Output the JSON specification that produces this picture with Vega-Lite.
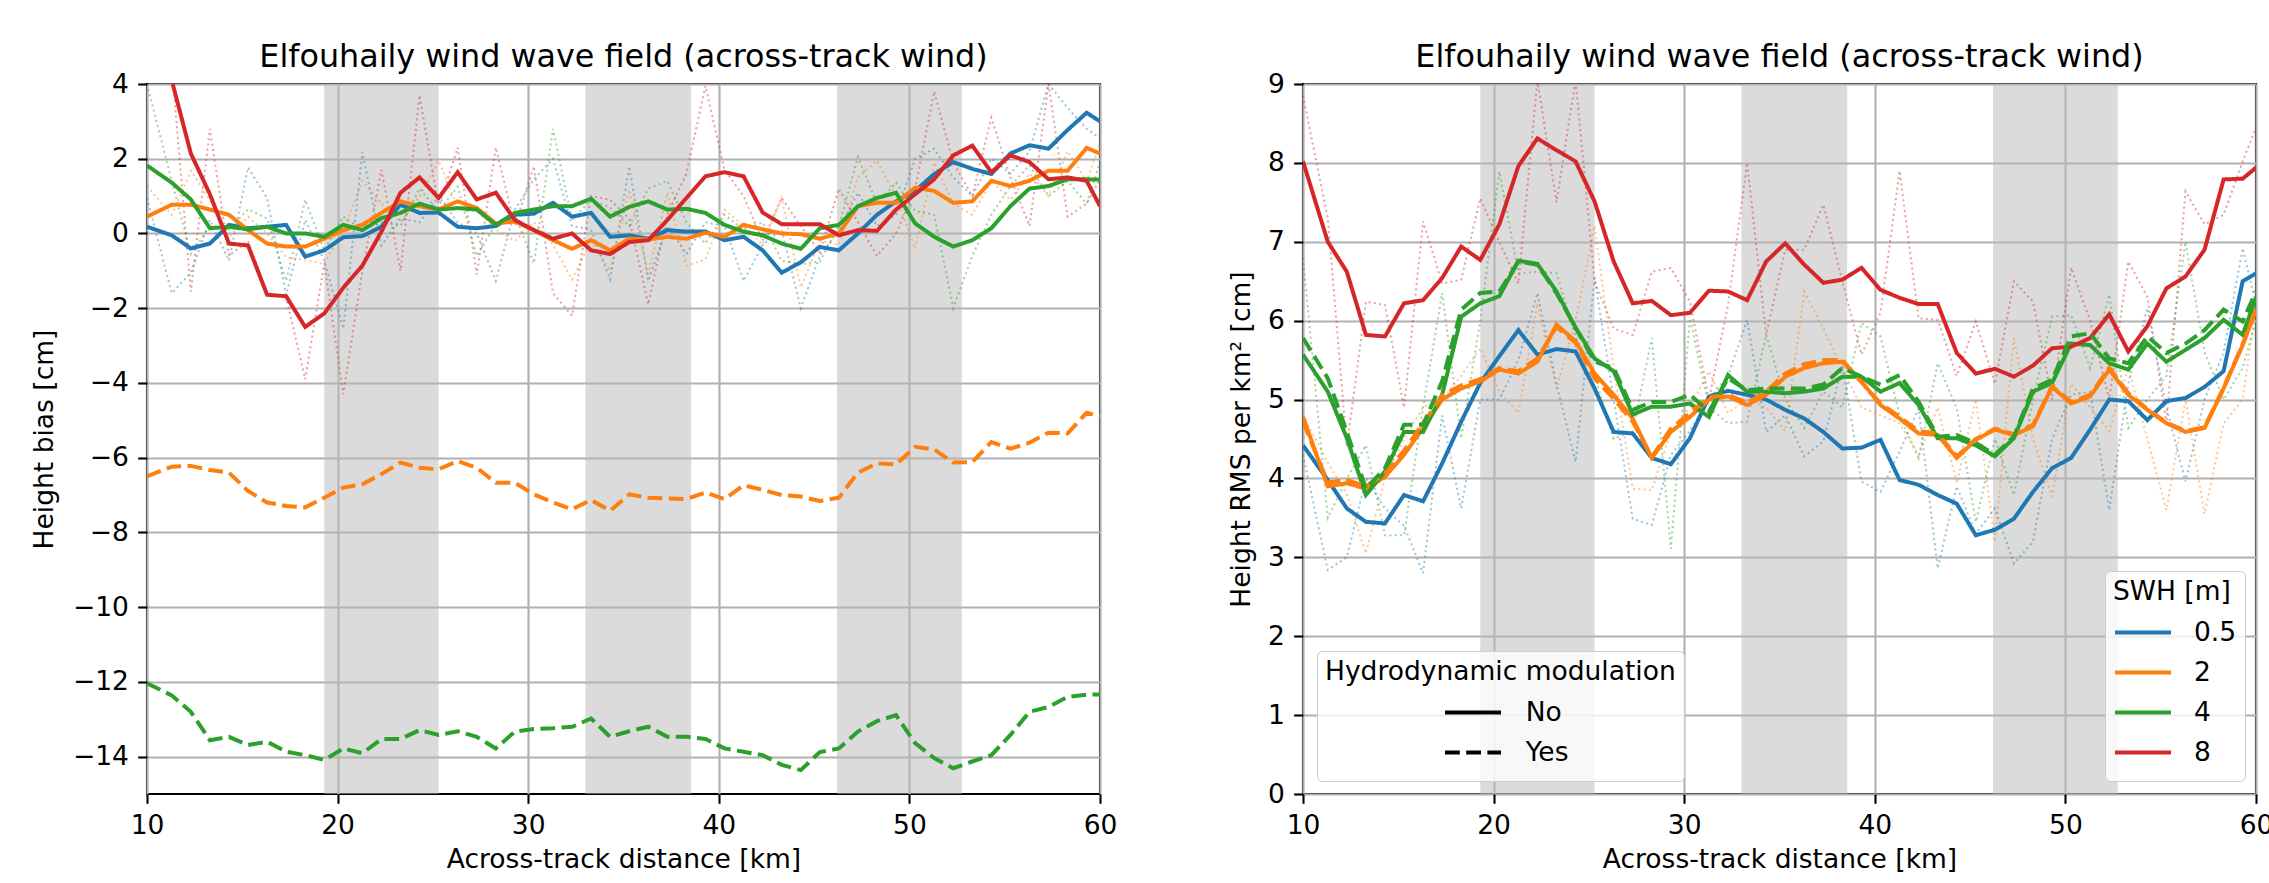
{
"$schema":"https://vega.github.io/schema/vega-lite/v6.json",
"background":"white",
"padding":{"left":30,"top":41,"right":5,"bottom":5},
"spacing":203,
"bounds":"flush",
"resolve":{"scale":{"color":"independent","strokeDash":"independent"}},
"config":{
"font":"DejaVu Sans",
"view":{"stroke":"black","strokeWidth":2.1},
"axis":{"labelFont":"DejaVu Sans","labelFontSize":26.5,"labelColor":"black","titleFont":"DejaVu Sans","titleFontSize":26.5,"titleFontWeight":"normal","titleColor":"black","tickColor":"black","tickSize":9.3,"tickWidth":2.1,"labelPadding":9.3,"domain":false,"gridColor":"#b0b0b0","gridWidth":2.1,"gridOpacity":1,"labelFlush":false,"labelOverlap":false,"labelBound":false},
"title":{"font":"DejaVu Sans","fontSize":31.8,"fontWeight":"normal","color":"black","offset":-28},
"legend":{"symbolType":"stroke","symbolSize":3136,"symbolStrokeWidth":4,"clipHeight":40,"rowPadding":0,"titlePadding":7,"padding":8,"fillColor":"rgba(255,255,255,0.8)","strokeColor":"#cccccc","cornerRadius":5,"labelFont":"DejaVu Sans","labelFontSize":26.5,"labelColor":"black","titleFont":"DejaVu Sans","titleFontSize":26.5,"titleFontWeight":"normal","titleColor":"black","titleLimit":1000,"labelLimit":500}
},
"datasets":{
"bands":[{"x0":19.3,"x1":25.3},{"x0":33.0,"x1":38.55},{"x0":46.2,"x1":52.75}],
"biasAvg":[
{"x":10,"y":0.18,"s":0.5,"m":"No"},{"x":11.3,"y":-0.05,"s":0.5,"m":"No"},{"x":12.3,"y":-0.4,"s":0.5,"m":"No"},{"x":13.3,"y":-0.27,"s":0.5,"m":"No"},{"x":14.3,"y":0.23,"s":0.5,"m":"No"},{"x":15.3,"y":0.14,"s":0.5,"m":"No"},{"x":16.3,"y":0.18,"s":0.5,"m":"No"},{"x":17.3,"y":0.23,"s":0.5,"m":"No"},{"x":18.3,"y":-0.62,"s":0.5,"m":"No"},{"x":19.3,"y":-0.45,"s":0.5,"m":"No"},{"x":20.3,"y":-0.1,"s":0.5,"m":"No"},{"x":21.3,"y":-0.07,"s":0.5,"m":"No"},{"x":22.3,"y":0.18,"s":0.5,"m":"No"},{"x":23.3,"y":0.77,"s":0.5,"m":"No"},{"x":24.3,"y":0.55,"s":0.5,"m":"No"},{"x":25.3,"y":0.56,"s":0.5,"m":"No"},{"x":26.3,"y":0.18,"s":0.5,"m":"No"},{"x":27.3,"y":0.14,"s":0.5,"m":"No"},{"x":28.3,"y":0.2,"s":0.5,"m":"No"},{"x":29.3,"y":0.5,"s":0.5,"m":"No"},{"x":30.3,"y":0.53,"s":0.5,"m":"No"},{"x":31.3,"y":0.82,"s":0.5,"m":"No"},{"x":32.3,"y":0.45,"s":0.5,"m":"No"},{"x":33.3,"y":0.55,"s":0.5,"m":"No"},{"x":34.3,"y":-0.09,"s":0.5,"m":"No"},{"x":35.3,"y":-0.05,"s":0.5,"m":"No"},{"x":36.3,"y":-0.14,"s":0.5,"m":"No"},{"x":37.3,"y":0.09,"s":0.5,"m":"No"},{"x":38.3,"y":0.05,"s":0.5,"m":"No"},{"x":39.3,"y":0.05,"s":0.5,"m":"No"},{"x":40.3,"y":-0.18,"s":0.5,"m":"No"},{"x":41.3,"y":-0.09,"s":0.5,"m":"No"},{"x":42.3,"y":-0.45,"s":0.5,"m":"No"},{"x":43.3,"y":-1.05,"s":0.5,"m":"No"},{"x":44.3,"y":-0.77,"s":0.5,"m":"No"},{"x":45.3,"y":-0.36,"s":0.5,"m":"No"},{"x":46.3,"y":-0.45,"s":0.5,"m":"No"},{"x":47.3,"y":0,"s":0.5,"m":"No"},{"x":48.3,"y":0.5,"s":0.5,"m":"No"},{"x":49.3,"y":0.86,"s":0.5,"m":"No"},{"x":50.3,"y":1.14,"s":0.5,"m":"No"},{"x":51.3,"y":1.59,"s":0.5,"m":"No"},{"x":52.3,"y":1.91,"s":0.5,"m":"No"},{"x":53.3,"y":1.73,"s":0.5,"m":"No"},{"x":54.3,"y":1.59,"s":0.5,"m":"No"},{"x":55.3,"y":2.14,"s":0.5,"m":"No"},{"x":56.3,"y":2.36,"s":0.5,"m":"No"},{"x":57.3,"y":2.27,"s":0.5,"m":"No"},{"x":58.3,"y":2.77,"s":0.5,"m":"No"},{"x":59.3,"y":3.23,"s":0.5,"m":"No"},{"x":60,"y":3.0,"s":0.5,"m":"No"},
{"x":10,"y":0.45,"s":2,"m":"No"},{"x":11.3,"y":0.77,"s":2,"m":"No"},{"x":12.3,"y":0.77,"s":2,"m":"No"},{"x":13.3,"y":0.64,"s":2,"m":"No"},{"x":14.3,"y":0.5,"s":2,"m":"No"},{"x":15.3,"y":0.09,"s":2,"m":"No"},{"x":16.3,"y":-0.27,"s":2,"m":"No"},{"x":17.3,"y":-0.35,"s":2,"m":"No"},{"x":18.3,"y":-0.35,"s":2,"m":"No"},{"x":19.3,"y":-0.14,"s":2,"m":"No"},{"x":20.3,"y":0.09,"s":2,"m":"No"},{"x":21.3,"y":0.23,"s":2,"m":"No"},{"x":22.3,"y":0.55,"s":2,"m":"No"},{"x":23.3,"y":0.86,"s":2,"m":"No"},{"x":24.3,"y":0.73,"s":2,"m":"No"},{"x":25.3,"y":0.64,"s":2,"m":"No"},{"x":26.3,"y":0.86,"s":2,"m":"No"},{"x":27.3,"y":0.68,"s":2,"m":"No"},{"x":28.3,"y":0.27,"s":2,"m":"No"},{"x":29.3,"y":0.32,"s":2,"m":"No"},{"x":30.3,"y":0.09,"s":2,"m":"No"},{"x":31.3,"y":-0.18,"s":2,"m":"No"},{"x":32.3,"y":-0.41,"s":2,"m":"No"},{"x":33.3,"y":-0.18,"s":2,"m":"No"},{"x":34.3,"y":-0.45,"s":2,"m":"No"},{"x":35.3,"y":-0.14,"s":2,"m":"No"},{"x":36.3,"y":-0.16,"s":2,"m":"No"},{"x":37.3,"y":-0.09,"s":2,"m":"No"},{"x":38.3,"y":-0.14,"s":2,"m":"No"},{"x":39.3,"y":0.02,"s":2,"m":"No"},{"x":40.3,"y":-0.09,"s":2,"m":"No"},{"x":41.3,"y":0.23,"s":2,"m":"No"},{"x":42.3,"y":0.11,"s":2,"m":"No"},{"x":43.3,"y":0,"s":2,"m":"No"},{"x":44.3,"y":-0.02,"s":2,"m":"No"},{"x":45.3,"y":-0.14,"s":2,"m":"No"},{"x":46.3,"y":0,"s":2,"m":"No"},{"x":47.3,"y":0.73,"s":2,"m":"No"},{"x":48.3,"y":0.82,"s":2,"m":"No"},{"x":49.3,"y":0.82,"s":2,"m":"No"},{"x":50.3,"y":1.23,"s":2,"m":"No"},{"x":51.3,"y":1.14,"s":2,"m":"No"},{"x":52.3,"y":0.82,"s":2,"m":"No"},{"x":53.3,"y":0.86,"s":2,"m":"No"},{"x":54.3,"y":1.41,"s":2,"m":"No"},{"x":55.3,"y":1.27,"s":2,"m":"No"},{"x":56.3,"y":1.41,"s":2,"m":"No"},{"x":57.3,"y":1.68,"s":2,"m":"No"},{"x":58.3,"y":1.68,"s":2,"m":"No"},{"x":59.3,"y":2.29,"s":2,"m":"No"},{"x":60,"y":2.14,"s":2,"m":"No"},
{"x":10,"y":1.82,"s":4,"m":"No"},{"x":11.3,"y":1.36,"s":4,"m":"No"},{"x":12.3,"y":0.91,"s":4,"m":"No"},{"x":13.3,"y":0.14,"s":4,"m":"No"},{"x":14.3,"y":0.18,"s":4,"m":"No"},{"x":15.3,"y":0.11,"s":4,"m":"No"},{"x":16.3,"y":0.18,"s":4,"m":"No"},{"x":17.3,"y":0,"s":4,"m":"No"},{"x":18.3,"y":0,"s":4,"m":"No"},{"x":19.3,"y":-0.09,"s":4,"m":"No"},{"x":20.3,"y":0.23,"s":4,"m":"No"},{"x":21.3,"y":0.09,"s":4,"m":"No"},{"x":22.3,"y":0.41,"s":4,"m":"No"},{"x":23.3,"y":0.55,"s":4,"m":"No"},{"x":24.3,"y":0.8,"s":4,"m":"No"},{"x":25.3,"y":0.64,"s":4,"m":"No"},{"x":26.3,"y":0.68,"s":4,"m":"No"},{"x":27.3,"y":0.64,"s":4,"m":"No"},{"x":28.3,"y":0.23,"s":4,"m":"No"},{"x":29.3,"y":0.55,"s":4,"m":"No"},{"x":30.3,"y":0.64,"s":4,"m":"No"},{"x":31.3,"y":0.73,"s":4,"m":"No"},{"x":32.3,"y":0.73,"s":4,"m":"No"},{"x":33.3,"y":0.93,"s":4,"m":"No"},{"x":34.3,"y":0.45,"s":4,"m":"No"},{"x":35.3,"y":0.71,"s":4,"m":"No"},{"x":36.3,"y":0.86,"s":4,"m":"No"},{"x":37.3,"y":0.64,"s":4,"m":"No"},{"x":38.3,"y":0.66,"s":4,"m":"No"},{"x":39.3,"y":0.55,"s":4,"m":"No"},{"x":40.3,"y":0.23,"s":4,"m":"No"},{"x":41.3,"y":0.05,"s":4,"m":"No"},{"x":42.3,"y":-0.05,"s":4,"m":"No"},{"x":43.3,"y":-0.27,"s":4,"m":"No"},{"x":44.3,"y":-0.41,"s":4,"m":"No"},{"x":45.3,"y":0.14,"s":4,"m":"No"},{"x":46.3,"y":0.23,"s":4,"m":"No"},{"x":47.3,"y":0.73,"s":4,"m":"No"},{"x":48.3,"y":0.95,"s":4,"m":"No"},{"x":49.3,"y":1.09,"s":4,"m":"No"},{"x":50.3,"y":0.27,"s":4,"m":"No"},{"x":51.3,"y":-0.09,"s":4,"m":"No"},{"x":52.3,"y":-0.35,"s":4,"m":"No"},{"x":53.3,"y":-0.18,"s":4,"m":"No"},{"x":54.3,"y":0.14,"s":4,"m":"No"},{"x":55.3,"y":0.73,"s":4,"m":"No"},{"x":56.3,"y":1.2,"s":4,"m":"No"},{"x":57.3,"y":1.27,"s":4,"m":"No"},{"x":58.3,"y":1.45,"s":4,"m":"No"},{"x":59.3,"y":1.45,"s":4,"m":"No"},{"x":60,"y":1.44,"s":4,"m":"No"},
{"x":11.35,"y":4.0,"s":8,"m":"No"},{"x":12.3,"y":2.14,"s":8,"m":"No"},{"x":13.3,"y":1.05,"s":8,"m":"No"},{"x":14.3,"y":-0.27,"s":8,"m":"No"},{"x":15.3,"y":-0.32,"s":8,"m":"No"},{"x":16.3,"y":-1.64,"s":8,"m":"No"},{"x":17.3,"y":-1.68,"s":8,"m":"No"},{"x":18.3,"y":-2.5,"s":8,"m":"No"},{"x":19.3,"y":-2.14,"s":8,"m":"No"},{"x":20.3,"y":-1.45,"s":8,"m":"No"},{"x":21.3,"y":-0.86,"s":8,"m":"No"},{"x":22.3,"y":0.05,"s":8,"m":"No"},{"x":23.3,"y":1.09,"s":8,"m":"No"},{"x":24.3,"y":1.5,"s":8,"m":"No"},{"x":25.3,"y":0.95,"s":8,"m":"No"},{"x":26.3,"y":1.64,"s":8,"m":"No"},{"x":27.3,"y":0.91,"s":8,"m":"No"},{"x":28.3,"y":1.09,"s":8,"m":"No"},{"x":29.3,"y":0.36,"s":8,"m":"No"},{"x":30.3,"y":0.09,"s":8,"m":"No"},{"x":31.3,"y":-0.14,"s":8,"m":"No"},{"x":32.3,"y":0,"s":8,"m":"No"},{"x":33.3,"y":-0.45,"s":8,"m":"No"},{"x":34.3,"y":-0.55,"s":8,"m":"No"},{"x":35.3,"y":-0.23,"s":8,"m":"No"},{"x":36.3,"y":-0.18,"s":8,"m":"No"},{"x":37.3,"y":0.36,"s":8,"m":"No"},{"x":38.3,"y":0.95,"s":8,"m":"No"},{"x":39.3,"y":1.53,"s":8,"m":"No"},{"x":40.3,"y":1.64,"s":8,"m":"No"},{"x":41.3,"y":1.53,"s":8,"m":"No"},{"x":42.3,"y":0.56,"s":8,"m":"No"},{"x":43.3,"y":0.25,"s":8,"m":"No"},{"x":44.3,"y":0.25,"s":8,"m":"No"},{"x":45.3,"y":0.25,"s":8,"m":"No"},{"x":46.3,"y":-0.05,"s":8,"m":"No"},{"x":47.3,"y":0.09,"s":8,"m":"No"},{"x":48.3,"y":0.07,"s":8,"m":"No"},{"x":49.3,"y":0.64,"s":8,"m":"No"},{"x":50.3,"y":1.05,"s":8,"m":"No"},{"x":51.3,"y":1.45,"s":8,"m":"No"},{"x":52.3,"y":2.09,"s":8,"m":"No"},{"x":53.3,"y":2.35,"s":8,"m":"No"},{"x":54.3,"y":1.64,"s":8,"m":"No"},{"x":55.3,"y":2.09,"s":8,"m":"No"},{"x":56.3,"y":1.91,"s":8,"m":"No"},{"x":57.3,"y":1.45,"s":8,"m":"No"},{"x":58.3,"y":1.5,"s":8,"m":"No"},{"x":59.3,"y":1.41,"s":8,"m":"No"},{"x":60,"y":0.73,"s":8,"m":"No"},
{"x":10,"y":-6.5,"s":2,"m":"Yes"},{"x":11.3,"y":-6.24,"s":2,"m":"Yes"},{"x":12.3,"y":-6.22,"s":2,"m":"Yes"},{"x":13.3,"y":-6.33,"s":2,"m":"Yes"},{"x":14.3,"y":-6.4,"s":2,"m":"Yes"},{"x":15.3,"y":-6.89,"s":2,"m":"Yes"},{"x":16.3,"y":-7.2,"s":2,"m":"Yes"},{"x":17.3,"y":-7.29,"s":2,"m":"Yes"},{"x":18.3,"y":-7.33,"s":2,"m":"Yes"},{"x":19.3,"y":-7.07,"s":2,"m":"Yes"},{"x":20.3,"y":-6.8,"s":2,"m":"Yes"},{"x":21.3,"y":-6.71,"s":2,"m":"Yes"},{"x":22.3,"y":-6.44,"s":2,"m":"Yes"},{"x":23.3,"y":-6.13,"s":2,"m":"Yes"},{"x":24.3,"y":-6.27,"s":2,"m":"Yes"},{"x":25.3,"y":-6.31,"s":2,"m":"Yes"},{"x":26.3,"y":-6.09,"s":2,"m":"Yes"},{"x":27.3,"y":-6.27,"s":2,"m":"Yes"},{"x":28.3,"y":-6.67,"s":2,"m":"Yes"},{"x":29.3,"y":-6.67,"s":2,"m":"Yes"},{"x":30.3,"y":-6.98,"s":2,"m":"Yes"},{"x":31.3,"y":-7.2,"s":2,"m":"Yes"},{"x":32.3,"y":-7.38,"s":2,"m":"Yes"},{"x":33.3,"y":-7.13,"s":2,"m":"Yes"},{"x":34.3,"y":-7.42,"s":2,"m":"Yes"},{"x":35.3,"y":-6.98,"s":2,"m":"Yes"},{"x":36.3,"y":-7.07,"s":2,"m":"Yes"},{"x":37.3,"y":-7.09,"s":2,"m":"Yes"},{"x":38.3,"y":-7.11,"s":2,"m":"Yes"},{"x":39.3,"y":-6.93,"s":2,"m":"Yes"},{"x":40.3,"y":-7.11,"s":2,"m":"Yes"},{"x":41.3,"y":-6.74,"s":2,"m":"Yes"},{"x":42.3,"y":-6.86,"s":2,"m":"Yes"},{"x":43.3,"y":-7.0,"s":2,"m":"Yes"},{"x":44.3,"y":-7.04,"s":2,"m":"Yes"},{"x":45.3,"y":-7.16,"s":2,"m":"Yes"},{"x":46.3,"y":-7.07,"s":2,"m":"Yes"},{"x":47.3,"y":-6.4,"s":2,"m":"Yes"},{"x":48.3,"y":-6.15,"s":2,"m":"Yes"},{"x":49.3,"y":-6.18,"s":2,"m":"Yes"},{"x":50.3,"y":-5.71,"s":2,"m":"Yes"},{"x":51.3,"y":-5.78,"s":2,"m":"Yes"},{"x":52.3,"y":-6.13,"s":2,"m":"Yes"},{"x":53.3,"y":-6.12,"s":2,"m":"Yes"},{"x":54.3,"y":-5.58,"s":2,"m":"Yes"},{"x":55.3,"y":-5.76,"s":2,"m":"Yes"},{"x":56.3,"y":-5.6,"s":2,"m":"Yes"},{"x":57.3,"y":-5.33,"s":2,"m":"Yes"},{"x":58.3,"y":-5.35,"s":2,"m":"Yes"},{"x":59.3,"y":-4.8,"s":2,"m":"Yes"},{"x":60,"y":-4.89,"s":2,"m":"Yes"},
{"x":10,"y":-12.04,"s":4,"m":"Yes"},{"x":11.3,"y":-12.36,"s":4,"m":"Yes"},{"x":12.3,"y":-12.8,"s":4,"m":"Yes"},{"x":13.3,"y":-13.56,"s":4,"m":"Yes"},{"x":14.3,"y":-13.47,"s":4,"m":"Yes"},{"x":15.3,"y":-13.69,"s":4,"m":"Yes"},{"x":16.3,"y":-13.6,"s":4,"m":"Yes"},{"x":17.3,"y":-13.87,"s":4,"m":"Yes"},{"x":18.3,"y":-13.96,"s":4,"m":"Yes"},{"x":19.3,"y":-14.09,"s":4,"m":"Yes"},{"x":20.3,"y":-13.78,"s":4,"m":"Yes"},{"x":21.3,"y":-13.91,"s":4,"m":"Yes"},{"x":22.3,"y":-13.53,"s":4,"m":"Yes"},{"x":23.3,"y":-13.53,"s":4,"m":"Yes"},{"x":24.3,"y":-13.29,"s":4,"m":"Yes"},{"x":25.3,"y":-13.42,"s":4,"m":"Yes"},{"x":26.3,"y":-13.32,"s":4,"m":"Yes"},{"x":27.3,"y":-13.47,"s":4,"m":"Yes"},{"x":28.3,"y":-13.78,"s":4,"m":"Yes"},{"x":29.3,"y":-13.33,"s":4,"m":"Yes"},{"x":30.3,"y":-13.26,"s":4,"m":"Yes"},{"x":31.3,"y":-13.24,"s":4,"m":"Yes"},{"x":32.3,"y":-13.2,"s":4,"m":"Yes"},{"x":33.3,"y":-12.98,"s":4,"m":"Yes"},{"x":34.3,"y":-13.47,"s":4,"m":"Yes"},{"x":35.3,"y":-13.32,"s":4,"m":"Yes"},{"x":36.3,"y":-13.2,"s":4,"m":"Yes"},{"x":37.3,"y":-13.47,"s":4,"m":"Yes"},{"x":38.3,"y":-13.47,"s":4,"m":"Yes"},{"x":39.3,"y":-13.53,"s":4,"m":"Yes"},{"x":40.3,"y":-13.78,"s":4,"m":"Yes"},{"x":41.3,"y":-13.87,"s":4,"m":"Yes"},{"x":42.3,"y":-13.96,"s":4,"m":"Yes"},{"x":43.3,"y":-14.22,"s":4,"m":"Yes"},{"x":44.3,"y":-14.36,"s":4,"m":"Yes"},{"x":45.3,"y":-13.88,"s":4,"m":"Yes"},{"x":46.3,"y":-13.78,"s":4,"m":"Yes"},{"x":47.3,"y":-13.33,"s":4,"m":"Yes"},{"x":48.3,"y":-13.05,"s":4,"m":"Yes"},{"x":49.3,"y":-12.89,"s":4,"m":"Yes"},{"x":50.3,"y":-13.64,"s":4,"m":"Yes"},{"x":51.3,"y":-14.04,"s":4,"m":"Yes"},{"x":52.3,"y":-14.31,"s":4,"m":"Yes"},{"x":53.3,"y":-14.13,"s":4,"m":"Yes"},{"x":54.3,"y":-13.96,"s":4,"m":"Yes"},{"x":55.3,"y":-13.42,"s":4,"m":"Yes"},{"x":56.3,"y":-12.8,"s":4,"m":"Yes"},{"x":57.3,"y":-12.67,"s":4,"m":"Yes"},{"x":58.3,"y":-12.4,"s":4,"m":"Yes"},{"x":59.3,"y":-12.34,"s":4,"m":"Yes"},{"x":60,"y":-12.34,"s":4,"m":"Yes"}
],
"biasRaw":[
{"x":10,"y":0.95,"s":0.5},{"x":11.3,"y":-1.6,"s":0.5},{"x":12.3,"y":-1.05,"s":0.5},{"x":13.3,"y":0.36,"s":0.5},{"x":14.3,"y":-0.73,"s":0.5},{"x":15.3,"y":1.77,"s":0.5},{"x":16.3,"y":0.95,"s":0.5},{"x":17.3,"y":-1.64,"s":0.5},{"x":18.3,"y":0.36,"s":0.5},{"x":19.3,"y":-0.73,"s":0.5},{"x":20.3,"y":-2.55,"s":0.5},{"x":21.3,"y":2.18,"s":0.5},{"x":22.3,"y":-0.32,"s":0.5},{"x":23.3,"y":0.4,"s":0.5},{"x":24.3,"y":0.3,"s":0.5},{"x":25.3,"y":1.0,"s":0.5},{"x":26.3,"y":0.3,"s":0.5},{"x":27.3,"y":0.0,"s":0.5},{"x":28.3,"y":-1.27,"s":0.5},{"x":29.3,"y":0.64,"s":0.5},{"x":30.3,"y":1.45,"s":0.5},{"x":31.3,"y":2.0,"s":0.5},{"x":32.3,"y":0.2,"s":0.5},{"x":33.3,"y":0.1,"s":0.5},{"x":34.3,"y":-1.23,"s":0.5},{"x":35.3,"y":1.8,"s":0.5},{"x":36.3,"y":-1.27,"s":0.5},{"x":37.3,"y":0.2,"s":0.5},{"x":38.3,"y":-0.55,"s":0.5},{"x":39.3,"y":0.3,"s":0.5},{"x":40.3,"y":0.2,"s":0.5},{"x":41.3,"y":-1.27,"s":0.5},{"x":42.3,"y":-0.3,"s":0.5},{"x":43.3,"y":0.1,"s":0.5},{"x":44.3,"y":-2.0,"s":0.5},{"x":45.3,"y":-0.6,"s":0.5},{"x":46.3,"y":0.1,"s":0.5},{"x":47.3,"y":1.09,"s":0.5},{"x":48.3,"y":0.2,"s":0.5},{"x":49.3,"y":0.5,"s":0.5},{"x":50.3,"y":2.0,"s":0.5},{"x":51.3,"y":2.27,"s":0.5},{"x":52.3,"y":1.5,"s":0.5},{"x":53.3,"y":1.0,"s":0.5},{"x":54.3,"y":2.0,"s":0.5},{"x":55.3,"y":1.6,"s":0.5},{"x":56.3,"y":2.2,"s":0.5},{"x":57.3,"y":4.0,"s":0.5},{"x":58.3,"y":3.36,"s":0.5},{"x":59.3,"y":2.8,"s":0.5},{"x":60,"y":2.55,"s":0.5},
{"x":10,"y":1.27,"s":2},{"x":11.3,"y":0.5,"s":2},{"x":12.3,"y":1.68,"s":2},{"x":13.3,"y":0.9,"s":2},{"x":14.3,"y":-0.1,"s":2},{"x":15.3,"y":0.45,"s":2},{"x":16.3,"y":0.0,"s":2},{"x":17.3,"y":-0.64,"s":2},{"x":18.3,"y":-0.7,"s":2},{"x":19.3,"y":-0.82,"s":2},{"x":20.3,"y":0.1,"s":2},{"x":21.3,"y":1.41,"s":2},{"x":22.3,"y":0.8,"s":2},{"x":23.3,"y":0.3,"s":2},{"x":24.3,"y":1.0,"s":2},{"x":25.3,"y":1.95,"s":2},{"x":26.3,"y":0.7,"s":2},{"x":27.3,"y":0.6,"s":2},{"x":28.3,"y":0.1,"s":2},{"x":29.3,"y":-0.2,"s":2},{"x":30.3,"y":0.3,"s":2},{"x":31.3,"y":-0.3,"s":2},{"x":32.3,"y":-1.23,"s":2},{"x":33.3,"y":-0.2,"s":2},{"x":34.3,"y":-1.0,"s":2},{"x":35.3,"y":1.18,"s":2},{"x":36.3,"y":-1.1,"s":2},{"x":37.3,"y":1.09,"s":2},{"x":38.3,"y":-0.86,"s":2},{"x":39.3,"y":-0.7,"s":2},{"x":40.3,"y":0.64,"s":2},{"x":41.3,"y":0.2,"s":2},{"x":42.3,"y":-0.3,"s":2},{"x":43.3,"y":0.95,"s":2},{"x":44.3,"y":-1.45,"s":2},{"x":45.3,"y":-0.2,"s":2},{"x":46.3,"y":-0.3,"s":2},{"x":47.3,"y":1.5,"s":2},{"x":48.3,"y":1.95,"s":2},{"x":49.3,"y":1.0,"s":2},{"x":50.3,"y":-0.41,"s":2},{"x":51.3,"y":1.9,"s":2},{"x":52.3,"y":0.8,"s":2},{"x":53.3,"y":0.5,"s":2},{"x":54.3,"y":1.4,"s":2},{"x":55.3,"y":0.9,"s":2},{"x":56.3,"y":1.6,"s":2},{"x":57.3,"y":1.0,"s":2},{"x":58.3,"y":2.2,"s":2},{"x":59.3,"y":1.4,"s":2},{"x":60,"y":2.4,"s":2},
{"x":10,"y":4.0,"s":4},{"x":11.3,"y":1.4,"s":4},{"x":12.3,"y":-0.55,"s":4},{"x":13.3,"y":0.2,"s":4},{"x":14.3,"y":0.1,"s":4},{"x":15.3,"y":0.65,"s":4},{"x":16.3,"y":0.4,"s":4},{"x":17.3,"y":-1.27,"s":4},{"x":18.3,"y":0.9,"s":4},{"x":19.3,"y":-0.45,"s":4},{"x":20.3,"y":0.45,"s":4},{"x":21.3,"y":0.1,"s":4},{"x":22.3,"y":0.3,"s":4},{"x":23.3,"y":0.2,"s":4},{"x":24.3,"y":1.2,"s":4},{"x":25.3,"y":0.6,"s":4},{"x":26.3,"y":1.25,"s":4},{"x":27.3,"y":-0.6,"s":4},{"x":28.3,"y":0.25,"s":4},{"x":29.3,"y":0.5,"s":4},{"x":30.3,"y":-0.8,"s":4},{"x":31.3,"y":2.8,"s":4},{"x":32.3,"y":0.35,"s":4},{"x":33.3,"y":0.9,"s":4},{"x":34.3,"y":0.7,"s":4},{"x":35.3,"y":0.2,"s":4},{"x":36.3,"y":1.2,"s":4},{"x":37.3,"y":1.4,"s":4},{"x":38.3,"y":0.3,"s":4},{"x":39.3,"y":-0.27,"s":4},{"x":40.3,"y":0.5,"s":4},{"x":41.3,"y":0.1,"s":4},{"x":42.3,"y":0.3,"s":4},{"x":43.3,"y":-0.73,"s":4},{"x":44.3,"y":-0.82,"s":4},{"x":45.3,"y":-0.75,"s":4},{"x":46.3,"y":0.2,"s":4},{"x":47.3,"y":2.05,"s":4},{"x":48.3,"y":0.8,"s":4},{"x":49.3,"y":1.36,"s":4},{"x":50.3,"y":0.6,"s":4},{"x":51.3,"y":0.5,"s":4},{"x":52.3,"y":-2.0,"s":4},{"x":53.3,"y":-0.6,"s":4},{"x":54.3,"y":0.5,"s":4},{"x":55.3,"y":1.27,"s":4},{"x":56.3,"y":1.82,"s":4},{"x":57.3,"y":1.0,"s":4},{"x":58.3,"y":1.4,"s":4},{"x":59.3,"y":0.8,"s":4},{"x":60,"y":1.9,"s":4},
{"x":11.38,"y":4.0,"s":8},{"x":12.3,"y":-1.55,"s":8},{"x":13.3,"y":2.8,"s":8},{"x":14.3,"y":-0.6,"s":8},{"x":15.3,"y":-0.2,"s":8},{"x":16.3,"y":-1.6,"s":8},{"x":17.3,"y":-1.7,"s":8},{"x":18.3,"y":-3.9,"s":8},{"x":19.3,"y":-0.8,"s":8},{"x":20.3,"y":-4.3,"s":8},{"x":21.3,"y":-1.0,"s":8},{"x":22.3,"y":1.7,"s":8},{"x":23.3,"y":-1.0,"s":8},{"x":24.3,"y":3.7,"s":8},{"x":25.3,"y":0.7,"s":8},{"x":26.3,"y":2.3,"s":8},{"x":27.3,"y":-1.1,"s":8},{"x":28.3,"y":2.3,"s":8},{"x":29.3,"y":0.2,"s":8},{"x":30.3,"y":1.8,"s":8},{"x":31.3,"y":-1.6,"s":8},{"x":32.3,"y":-2.2,"s":8},{"x":33.3,"y":1.0,"s":8},{"x":34.3,"y":0.9,"s":8},{"x":35.3,"y":0.4,"s":8},{"x":36.3,"y":-1.9,"s":8},{"x":37.3,"y":0.5,"s":8},{"x":38.3,"y":1.6,"s":8},{"x":39.3,"y":3.95,"s":8},{"x":40.3,"y":1.7,"s":8},{"x":41.3,"y":1.0,"s":8},{"x":42.3,"y":-0.2,"s":8},{"x":43.3,"y":0.95,"s":8},{"x":44.3,"y":0.2,"s":8},{"x":45.3,"y":-0.5,"s":8},{"x":46.3,"y":1.2,"s":8},{"x":47.3,"y":0.3,"s":8},{"x":48.3,"y":-0.6,"s":8},{"x":49.3,"y":0.0,"s":8},{"x":50.3,"y":1.2,"s":8},{"x":51.3,"y":3.8,"s":8},{"x":52.3,"y":1.9,"s":8},{"x":53.3,"y":1.0,"s":8},{"x":54.3,"y":3.1,"s":8},{"x":55.3,"y":1.5,"s":8},{"x":56.3,"y":0.2,"s":8},{"x":57.3,"y":4.0,"s":8},{"x":58.3,"y":0.45,"s":8},{"x":59.3,"y":0.8,"s":8},{"x":60,"y":1.45,"s":8}
],
"rmsAvg":[
{"x":10,"y":4.42,"s":0.5,"m":"No"},{"x":11.3,"y":3.98,"s":0.5,"m":"No"},{"x":12.3,"y":3.62,"s":0.5,"m":"No"},{"x":13.3,"y":3.45,"s":0.5,"m":"No"},{"x":14.3,"y":3.43,"s":0.5,"m":"No"},{"x":15.3,"y":3.79,"s":0.5,"m":"No"},{"x":16.3,"y":3.71,"s":0.5,"m":"No"},{"x":17.3,"y":4.19,"s":0.5,"m":"No"},{"x":18.3,"y":4.72,"s":0.5,"m":"No"},{"x":19.3,"y":5.21,"s":0.5,"m":"No"},{"x":20.3,"y":5.55,"s":0.5,"m":"No"},{"x":21.3,"y":5.88,"s":0.5,"m":"No"},{"x":22.3,"y":5.57,"s":0.5,"m":"No"},{"x":23.3,"y":5.64,"s":0.5,"m":"No"},{"x":24.3,"y":5.61,"s":0.5,"m":"No"},{"x":25.3,"y":5.14,"s":0.5,"m":"No"},{"x":26.3,"y":4.59,"s":0.5,"m":"No"},{"x":27.3,"y":4.57,"s":0.5,"m":"No"},{"x":28.3,"y":4.26,"s":0.5,"m":"No"},{"x":29.3,"y":4.18,"s":0.5,"m":"No"},{"x":30.3,"y":4.51,"s":0.5,"m":"No"},{"x":31.3,"y":5.04,"s":0.5,"m":"No"},{"x":32.3,"y":5.11,"s":0.5,"m":"No"},{"x":33.3,"y":5.06,"s":0.5,"m":"No"},{"x":34.3,"y":5.0,"s":0.5,"m":"No"},{"x":35.3,"y":4.87,"s":0.5,"m":"No"},{"x":36.3,"y":4.76,"s":0.5,"m":"No"},{"x":37.3,"y":4.59,"s":0.5,"m":"No"},{"x":38.3,"y":4.38,"s":0.5,"m":"No"},{"x":39.3,"y":4.39,"s":0.5,"m":"No"},{"x":40.3,"y":4.49,"s":0.5,"m":"No"},{"x":41.3,"y":3.98,"s":0.5,"m":"No"},{"x":42.3,"y":3.92,"s":0.5,"m":"No"},{"x":43.3,"y":3.79,"s":0.5,"m":"No"},{"x":44.3,"y":3.68,"s":0.5,"m":"No"},{"x":45.3,"y":3.28,"s":0.5,"m":"No"},{"x":46.3,"y":3.35,"s":0.5,"m":"No"},{"x":47.3,"y":3.49,"s":0.5,"m":"No"},{"x":48.3,"y":3.83,"s":0.5,"m":"No"},{"x":49.3,"y":4.13,"s":0.5,"m":"No"},{"x":50.3,"y":4.26,"s":0.5,"m":"No"},{"x":51.3,"y":4.62,"s":0.5,"m":"No"},{"x":52.3,"y":5.0,"s":0.5,"m":"No"},{"x":53.3,"y":4.98,"s":0.5,"m":"No"},{"x":54.3,"y":4.74,"s":0.5,"m":"No"},{"x":55.3,"y":4.98,"s":0.5,"m":"No"},{"x":56.3,"y":5.02,"s":0.5,"m":"No"},{"x":57.3,"y":5.16,"s":0.5,"m":"No"},{"x":58.3,"y":5.36,"s":0.5,"m":"No"},{"x":59.3,"y":6.5,"s":0.5,"m":"No"},{"x":60,"y":6.6,"s":0.5,"m":"No"},
{"x":10,"y":4.78,"s":2,"m":"No"},{"x":11.3,"y":3.9,"s":2,"m":"No"},{"x":12.3,"y":3.94,"s":2,"m":"No"},{"x":13.3,"y":3.87,"s":2,"m":"No"},{"x":14.3,"y":4.02,"s":2,"m":"No"},{"x":15.3,"y":4.3,"s":2,"m":"No"},{"x":16.3,"y":4.64,"s":2,"m":"No"},{"x":17.3,"y":5.0,"s":2,"m":"No"},{"x":18.3,"y":5.14,"s":2,"m":"No"},{"x":19.3,"y":5.23,"s":2,"m":"No"},{"x":20.3,"y":5.38,"s":2,"m":"No"},{"x":21.3,"y":5.33,"s":2,"m":"No"},{"x":22.3,"y":5.48,"s":2,"m":"No"},{"x":23.3,"y":5.95,"s":2,"m":"No"},{"x":24.3,"y":5.74,"s":2,"m":"No"},{"x":25.3,"y":5.33,"s":2,"m":"No"},{"x":26.3,"y":5.06,"s":2,"m":"No"},{"x":27.3,"y":4.76,"s":2,"m":"No"},{"x":28.3,"y":4.26,"s":2,"m":"No"},{"x":29.3,"y":4.59,"s":2,"m":"No"},{"x":30.3,"y":4.78,"s":2,"m":"No"},{"x":31.3,"y":5.0,"s":2,"m":"No"},{"x":32.3,"y":5.04,"s":2,"m":"No"},{"x":33.3,"y":4.93,"s":2,"m":"No"},{"x":34.3,"y":5.06,"s":2,"m":"No"},{"x":35.3,"y":5.29,"s":2,"m":"No"},{"x":36.3,"y":5.4,"s":2,"m":"No"},{"x":37.3,"y":5.46,"s":2,"m":"No"},{"x":38.3,"y":5.48,"s":2,"m":"No"},{"x":39.3,"y":5.23,"s":2,"m":"No"},{"x":40.3,"y":4.93,"s":2,"m":"No"},{"x":41.3,"y":4.76,"s":2,"m":"No"},{"x":42.3,"y":4.57,"s":2,"m":"No"},{"x":43.3,"y":4.55,"s":2,"m":"No"},{"x":44.3,"y":4.26,"s":2,"m":"No"},{"x":45.3,"y":4.49,"s":2,"m":"No"},{"x":46.3,"y":4.62,"s":2,"m":"No"},{"x":47.3,"y":4.55,"s":2,"m":"No"},{"x":48.3,"y":4.66,"s":2,"m":"No"},{"x":49.3,"y":5.16,"s":2,"m":"No"},{"x":50.3,"y":4.95,"s":2,"m":"No"},{"x":51.3,"y":5.04,"s":2,"m":"No"},{"x":52.3,"y":5.38,"s":2,"m":"No"},{"x":53.3,"y":5.06,"s":2,"m":"No"},{"x":54.3,"y":4.87,"s":2,"m":"No"},{"x":55.3,"y":4.7,"s":2,"m":"No"},{"x":56.3,"y":4.59,"s":2,"m":"No"},{"x":57.3,"y":4.64,"s":2,"m":"No"},{"x":58.3,"y":5.14,"s":2,"m":"No"},{"x":59.3,"y":5.69,"s":2,"m":"No"},{"x":60,"y":6.14,"s":2,"m":"No"},
{"x":10,"y":5.57,"s":4,"m":"No"},{"x":11.3,"y":5.1,"s":4,"m":"No"},{"x":12.3,"y":4.51,"s":4,"m":"No"},{"x":13.3,"y":3.79,"s":4,"m":"No"},{"x":14.3,"y":4.09,"s":4,"m":"No"},{"x":15.3,"y":4.59,"s":4,"m":"No"},{"x":16.3,"y":4.59,"s":4,"m":"No"},{"x":17.3,"y":5.06,"s":4,"m":"No"},{"x":18.3,"y":6.05,"s":4,"m":"No"},{"x":19.3,"y":6.22,"s":4,"m":"No"},{"x":20.3,"y":6.31,"s":4,"m":"No"},{"x":21.3,"y":6.76,"s":4,"m":"No"},{"x":22.3,"y":6.72,"s":4,"m":"No"},{"x":23.3,"y":6.37,"s":4,"m":"No"},{"x":24.3,"y":5.91,"s":4,"m":"No"},{"x":25.3,"y":5.52,"s":4,"m":"No"},{"x":26.3,"y":5.36,"s":4,"m":"No"},{"x":27.3,"y":4.81,"s":4,"m":"No"},{"x":28.3,"y":4.91,"s":4,"m":"No"},{"x":29.3,"y":4.91,"s":4,"m":"No"},{"x":30.3,"y":4.95,"s":4,"m":"No"},{"x":31.3,"y":4.78,"s":4,"m":"No"},{"x":32.3,"y":5.31,"s":4,"m":"No"},{"x":33.3,"y":5.1,"s":4,"m":"No"},{"x":34.3,"y":5.1,"s":4,"m":"No"},{"x":35.3,"y":5.08,"s":4,"m":"No"},{"x":36.3,"y":5.1,"s":4,"m":"No"},{"x":37.3,"y":5.14,"s":4,"m":"No"},{"x":38.3,"y":5.29,"s":4,"m":"No"},{"x":39.3,"y":5.29,"s":4,"m":"No"},{"x":40.3,"y":5.1,"s":4,"m":"No"},{"x":41.3,"y":5.21,"s":4,"m":"No"},{"x":42.3,"y":4.93,"s":4,"m":"No"},{"x":43.3,"y":4.51,"s":4,"m":"No"},{"x":44.3,"y":4.51,"s":4,"m":"No"},{"x":45.3,"y":4.42,"s":4,"m":"No"},{"x":46.3,"y":4.28,"s":4,"m":"No"},{"x":47.3,"y":4.51,"s":4,"m":"No"},{"x":48.3,"y":5.1,"s":4,"m":"No"},{"x":49.3,"y":5.21,"s":4,"m":"No"},{"x":50.3,"y":5.71,"s":4,"m":"No"},{"x":51.3,"y":5.69,"s":4,"m":"No"},{"x":52.3,"y":5.46,"s":4,"m":"No"},{"x":53.3,"y":5.38,"s":4,"m":"No"},{"x":54.3,"y":5.71,"s":4,"m":"No"},{"x":55.3,"y":5.48,"s":4,"m":"No"},{"x":56.3,"y":5.63,"s":4,"m":"No"},{"x":57.3,"y":5.78,"s":4,"m":"No"},{"x":58.3,"y":6.01,"s":4,"m":"No"},{"x":59.3,"y":5.82,"s":4,"m":"No"},{"x":60,"y":6.29,"s":4,"m":"No"},
{"x":10,"y":8.02,"s":8,"m":"No"},{"x":11.3,"y":7.0,"s":8,"m":"No"},{"x":12.3,"y":6.62,"s":8,"m":"No"},{"x":13.3,"y":5.82,"s":8,"m":"No"},{"x":14.3,"y":5.8,"s":8,"m":"No"},{"x":15.3,"y":6.22,"s":8,"m":"No"},{"x":16.3,"y":6.26,"s":8,"m":"No"},{"x":17.3,"y":6.54,"s":8,"m":"No"},{"x":18.3,"y":6.94,"s":8,"m":"No"},{"x":19.3,"y":6.77,"s":8,"m":"No"},{"x":20.3,"y":7.22,"s":8,"m":"No"},{"x":21.3,"y":7.96,"s":8,"m":"No"},{"x":22.3,"y":8.31,"s":8,"m":"No"},{"x":23.3,"y":8.16,"s":8,"m":"No"},{"x":24.3,"y":8.02,"s":8,"m":"No"},{"x":25.3,"y":7.51,"s":8,"m":"No"},{"x":26.3,"y":6.75,"s":8,"m":"No"},{"x":27.3,"y":6.22,"s":8,"m":"No"},{"x":28.3,"y":6.25,"s":8,"m":"No"},{"x":29.3,"y":6.07,"s":8,"m":"No"},{"x":30.3,"y":6.1,"s":8,"m":"No"},{"x":31.3,"y":6.38,"s":8,"m":"No"},{"x":32.3,"y":6.37,"s":8,"m":"No"},{"x":33.3,"y":6.26,"s":8,"m":"No"},{"x":34.3,"y":6.75,"s":8,"m":"No"},{"x":35.3,"y":6.98,"s":8,"m":"No"},{"x":36.3,"y":6.71,"s":8,"m":"No"},{"x":37.3,"y":6.48,"s":8,"m":"No"},{"x":38.3,"y":6.52,"s":8,"m":"No"},{"x":39.3,"y":6.67,"s":8,"m":"No"},{"x":40.3,"y":6.39,"s":8,"m":"No"},{"x":41.3,"y":6.29,"s":8,"m":"No"},{"x":42.3,"y":6.21,"s":8,"m":"No"},{"x":43.3,"y":6.21,"s":8,"m":"No"},{"x":44.3,"y":5.59,"s":8,"m":"No"},{"x":45.3,"y":5.33,"s":8,"m":"No"},{"x":46.3,"y":5.39,"s":8,"m":"No"},{"x":47.3,"y":5.29,"s":8,"m":"No"},{"x":48.3,"y":5.43,"s":8,"m":"No"},{"x":49.3,"y":5.65,"s":8,"m":"No"},{"x":50.3,"y":5.67,"s":8,"m":"No"},{"x":51.3,"y":5.78,"s":8,"m":"No"},{"x":52.3,"y":6.08,"s":8,"m":"No"},{"x":53.3,"y":5.61,"s":8,"m":"No"},{"x":54.3,"y":5.93,"s":8,"m":"No"},{"x":55.3,"y":6.41,"s":8,"m":"No"},{"x":56.3,"y":6.56,"s":8,"m":"No"},{"x":57.3,"y":6.9,"s":8,"m":"No"},{"x":58.3,"y":7.79,"s":8,"m":"No"},{"x":59.3,"y":7.8,"s":8,"m":"No"},{"x":60,"y":7.94,"s":8,"m":"No"},
{"x":10,"y":4.72,"s":2,"m":"Yes"},{"x":11.3,"y":3.95,"s":2,"m":"Yes"},{"x":12.3,"y":3.98,"s":2,"m":"Yes"},{"x":13.3,"y":3.9,"s":2,"m":"Yes"},{"x":14.3,"y":4.06,"s":2,"m":"Yes"},{"x":15.3,"y":4.35,"s":2,"m":"Yes"},{"x":16.3,"y":4.7,"s":2,"m":"Yes"},{"x":17.3,"y":5.05,"s":2,"m":"Yes"},{"x":18.3,"y":5.18,"s":2,"m":"Yes"},{"x":19.3,"y":5.26,"s":2,"m":"Yes"},{"x":20.3,"y":5.4,"s":2,"m":"Yes"},{"x":21.3,"y":5.36,"s":2,"m":"Yes"},{"x":22.3,"y":5.52,"s":2,"m":"Yes"},{"x":23.3,"y":5.92,"s":2,"m":"Yes"},{"x":24.3,"y":5.72,"s":2,"m":"Yes"},{"x":25.3,"y":5.27,"s":2,"m":"Yes"},{"x":26.3,"y":5.01,"s":2,"m":"Yes"},{"x":27.3,"y":4.72,"s":2,"m":"Yes"},{"x":28.3,"y":4.27,"s":2,"m":"Yes"},{"x":29.3,"y":4.63,"s":2,"m":"Yes"},{"x":30.3,"y":4.83,"s":2,"m":"Yes"},{"x":31.3,"y":5.03,"s":2,"m":"Yes"},{"x":32.3,"y":5.06,"s":2,"m":"Yes"},{"x":33.3,"y":4.96,"s":2,"m":"Yes"},{"x":34.3,"y":5.1,"s":2,"m":"Yes"},{"x":35.3,"y":5.33,"s":2,"m":"Yes"},{"x":36.3,"y":5.45,"s":2,"m":"Yes"},{"x":37.3,"y":5.5,"s":2,"m":"Yes"},{"x":38.3,"y":5.5,"s":2,"m":"Yes"},{"x":39.3,"y":5.22,"s":2,"m":"Yes"},{"x":40.3,"y":4.95,"s":2,"m":"Yes"},{"x":41.3,"y":4.78,"s":2,"m":"Yes"},{"x":42.3,"y":4.6,"s":2,"m":"Yes"},{"x":43.3,"y":4.57,"s":2,"m":"Yes"},{"x":44.3,"y":4.28,"s":2,"m":"Yes"},{"x":45.3,"y":4.5,"s":2,"m":"Yes"},{"x":46.3,"y":4.63,"s":2,"m":"Yes"},{"x":47.3,"y":4.56,"s":2,"m":"Yes"},{"x":48.3,"y":4.68,"s":2,"m":"Yes"},{"x":49.3,"y":5.17,"s":2,"m":"Yes"},{"x":50.3,"y":4.97,"s":2,"m":"Yes"},{"x":51.3,"y":5.06,"s":2,"m":"Yes"},{"x":52.3,"y":5.4,"s":2,"m":"Yes"},{"x":53.3,"y":5.08,"s":2,"m":"Yes"},{"x":54.3,"y":4.88,"s":2,"m":"Yes"},{"x":55.3,"y":4.71,"s":2,"m":"Yes"},{"x":56.3,"y":4.6,"s":2,"m":"Yes"},{"x":57.3,"y":4.65,"s":2,"m":"Yes"},{"x":58.3,"y":5.15,"s":2,"m":"Yes"},{"x":59.3,"y":5.7,"s":2,"m":"Yes"},{"x":60,"y":6.15,"s":2,"m":"Yes"},
{"x":10,"y":5.78,"s":4,"m":"Yes"},{"x":11.3,"y":5.27,"s":4,"m":"Yes"},{"x":12.3,"y":4.59,"s":4,"m":"Yes"},{"x":13.3,"y":3.87,"s":4,"m":"Yes"},{"x":14.3,"y":4.13,"s":4,"m":"Yes"},{"x":15.3,"y":4.68,"s":4,"m":"Yes"},{"x":16.3,"y":4.68,"s":4,"m":"Yes"},{"x":17.3,"y":5.23,"s":4,"m":"Yes"},{"x":18.3,"y":6.14,"s":4,"m":"Yes"},{"x":19.3,"y":6.35,"s":4,"m":"Yes"},{"x":20.3,"y":6.37,"s":4,"m":"Yes"},{"x":21.3,"y":6.75,"s":4,"m":"Yes"},{"x":22.3,"y":6.71,"s":4,"m":"Yes"},{"x":23.3,"y":6.35,"s":4,"m":"Yes"},{"x":24.3,"y":5.91,"s":4,"m":"Yes"},{"x":25.3,"y":5.48,"s":4,"m":"Yes"},{"x":26.3,"y":5.4,"s":4,"m":"Yes"},{"x":27.3,"y":4.87,"s":4,"m":"Yes"},{"x":28.3,"y":4.97,"s":4,"m":"Yes"},{"x":29.3,"y":4.97,"s":4,"m":"Yes"},{"x":30.3,"y":5.06,"s":4,"m":"Yes"},{"x":31.3,"y":4.85,"s":4,"m":"Yes"},{"x":32.3,"y":5.27,"s":4,"m":"Yes"},{"x":33.3,"y":5.12,"s":4,"m":"Yes"},{"x":34.3,"y":5.14,"s":4,"m":"Yes"},{"x":35.3,"y":5.14,"s":4,"m":"Yes"},{"x":36.3,"y":5.14,"s":4,"m":"Yes"},{"x":37.3,"y":5.19,"s":4,"m":"Yes"},{"x":38.3,"y":5.4,"s":4,"m":"Yes"},{"x":39.3,"y":5.29,"s":4,"m":"Yes"},{"x":40.3,"y":5.19,"s":4,"m":"Yes"},{"x":41.3,"y":5.31,"s":4,"m":"Yes"},{"x":42.3,"y":4.97,"s":4,"m":"Yes"},{"x":43.3,"y":4.53,"s":4,"m":"Yes"},{"x":44.3,"y":4.55,"s":4,"m":"Yes"},{"x":45.3,"y":4.45,"s":4,"m":"Yes"},{"x":46.3,"y":4.3,"s":4,"m":"Yes"},{"x":47.3,"y":4.53,"s":4,"m":"Yes"},{"x":48.3,"y":5.14,"s":4,"m":"Yes"},{"x":49.3,"y":5.25,"s":4,"m":"Yes"},{"x":50.3,"y":5.8,"s":4,"m":"Yes"},{"x":51.3,"y":5.84,"s":4,"m":"Yes"},{"x":52.3,"y":5.52,"s":4,"m":"Yes"},{"x":53.3,"y":5.46,"s":4,"m":"Yes"},{"x":54.3,"y":5.8,"s":4,"m":"Yes"},{"x":55.3,"y":5.59,"s":4,"m":"Yes"},{"x":56.3,"y":5.71,"s":4,"m":"Yes"},{"x":57.3,"y":5.88,"s":4,"m":"Yes"},{"x":58.3,"y":6.14,"s":4,"m":"Yes"},{"x":59.3,"y":5.99,"s":4,"m":"Yes"},{"x":60,"y":6.37,"s":4,"m":"Yes"}
],
"rmsRaw":[
{"x":10,"y":4.3,"s":0.5},{"x":11.3,"y":2.84,"s":0.5},{"x":12.3,"y":3.0,"s":0.5},{"x":13.3,"y":4.0,"s":0.5},{"x":14.3,"y":3.62,"s":0.5},{"x":15.3,"y":3.4,"s":0.5},{"x":16.3,"y":2.8,"s":0.5},{"x":17.3,"y":4.8,"s":0.5},{"x":18.3,"y":3.62,"s":0.5},{"x":19.3,"y":5.0,"s":0.5},{"x":20.3,"y":5.0,"s":0.5},{"x":21.3,"y":5.5,"s":0.5},{"x":22.3,"y":6.35,"s":0.5},{"x":23.3,"y":5.2,"s":0.5},{"x":24.3,"y":4.21,"s":0.5},{"x":25.3,"y":6.54,"s":0.5},{"x":26.3,"y":5.0,"s":0.5},{"x":27.3,"y":3.49,"s":0.5},{"x":28.3,"y":3.41,"s":0.5},{"x":29.3,"y":4.3,"s":0.5},{"x":30.3,"y":4.6,"s":0.5},{"x":31.3,"y":5.0,"s":0.5},{"x":32.3,"y":5.3,"s":0.5},{"x":33.3,"y":6.01,"s":0.5},{"x":34.3,"y":4.59,"s":0.5},{"x":35.3,"y":4.8,"s":0.5},{"x":36.3,"y":4.28,"s":0.5},{"x":37.3,"y":4.47,"s":0.5},{"x":38.3,"y":5.44,"s":0.5},{"x":39.3,"y":3.96,"s":0.5},{"x":40.3,"y":3.83,"s":0.5},{"x":41.3,"y":4.34,"s":0.5},{"x":42.3,"y":4.89,"s":0.5},{"x":43.3,"y":2.86,"s":0.5},{"x":44.3,"y":3.9,"s":0.5},{"x":45.3,"y":3.3,"s":0.5},{"x":46.3,"y":3.62,"s":0.5},{"x":47.3,"y":2.92,"s":0.5},{"x":48.3,"y":3.2,"s":0.5},{"x":49.3,"y":4.5,"s":0.5},{"x":50.3,"y":5.06,"s":0.5},{"x":51.3,"y":5.1,"s":0.5},{"x":52.3,"y":3.6,"s":0.5},{"x":53.3,"y":5.2,"s":0.5},{"x":54.3,"y":6.16,"s":0.5},{"x":55.3,"y":4.9,"s":0.5},{"x":56.3,"y":3.96,"s":0.5},{"x":57.3,"y":5.0,"s":0.5},{"x":58.3,"y":5.6,"s":0.5},{"x":59.3,"y":6.92,"s":0.5},{"x":60,"y":6.2,"s":0.5},
{"x":10,"y":4.8,"s":2},{"x":11.3,"y":4.2,"s":2},{"x":12.3,"y":3.8,"s":2},{"x":13.3,"y":3.05,"s":2},{"x":14.3,"y":4.0,"s":2},{"x":15.3,"y":4.5,"s":2},{"x":16.3,"y":4.9,"s":2},{"x":17.3,"y":5.0,"s":2},{"x":18.3,"y":5.3,"s":2},{"x":19.3,"y":5.65,"s":2},{"x":20.3,"y":5.1,"s":2},{"x":21.3,"y":4.83,"s":2},{"x":22.3,"y":6.22,"s":2},{"x":23.3,"y":5.14,"s":2},{"x":24.3,"y":6.0,"s":2},{"x":25.3,"y":7.2,"s":2},{"x":26.3,"y":5.4,"s":2},{"x":27.3,"y":3.87,"s":2},{"x":28.3,"y":3.85,"s":2},{"x":29.3,"y":4.6,"s":2},{"x":30.3,"y":4.9,"s":2},{"x":31.3,"y":5.36,"s":2},{"x":32.3,"y":4.83,"s":2},{"x":33.3,"y":5.0,"s":2},{"x":34.3,"y":4.9,"s":2},{"x":35.3,"y":4.6,"s":2},{"x":36.3,"y":6.37,"s":2},{"x":37.3,"y":5.9,"s":2},{"x":38.3,"y":5.4,"s":2},{"x":39.3,"y":4.9,"s":2},{"x":40.3,"y":4.8,"s":2},{"x":41.3,"y":4.7,"s":2},{"x":42.3,"y":4.3,"s":2},{"x":43.3,"y":4.9,"s":2},{"x":44.3,"y":3.94,"s":2},{"x":45.3,"y":5.0,"s":2},{"x":46.3,"y":3.2,"s":2},{"x":47.3,"y":5.78,"s":2},{"x":48.3,"y":4.5,"s":2},{"x":49.3,"y":3.77,"s":2},{"x":50.3,"y":5.2,"s":2},{"x":51.3,"y":4.9,"s":2},{"x":52.3,"y":4.6,"s":2},{"x":53.3,"y":5.4,"s":2},{"x":54.3,"y":4.5,"s":2},{"x":55.3,"y":3.6,"s":2},{"x":56.3,"y":5.0,"s":2},{"x":57.3,"y":3.55,"s":2},{"x":58.3,"y":4.7,"s":2},{"x":59.3,"y":5.0,"s":2},{"x":60,"y":6.2,"s":2},
{"x":10,"y":6.8,"s":4},{"x":11.3,"y":3.5,"s":4},{"x":12.3,"y":4.0,"s":4},{"x":13.3,"y":4.42,"s":4},{"x":14.3,"y":3.28,"s":4},{"x":15.3,"y":3.28,"s":4},{"x":16.3,"y":4.9,"s":4},{"x":17.3,"y":6.35,"s":4},{"x":18.3,"y":4.51,"s":4},{"x":19.3,"y":6.0,"s":4},{"x":20.3,"y":7.89,"s":4},{"x":21.3,"y":6.6,"s":4},{"x":22.3,"y":6.62,"s":4},{"x":23.3,"y":6.6,"s":4},{"x":24.3,"y":5.8,"s":4},{"x":25.3,"y":5.3,"s":4},{"x":26.3,"y":4.5,"s":4},{"x":27.3,"y":4.6,"s":4},{"x":28.3,"y":5.78,"s":4},{"x":29.3,"y":3.11,"s":4},{"x":30.3,"y":6.03,"s":4},{"x":31.3,"y":4.9,"s":4},{"x":32.3,"y":4.7,"s":4},{"x":33.3,"y":4.72,"s":4},{"x":34.3,"y":5.82,"s":4},{"x":35.3,"y":5.0,"s":4},{"x":36.3,"y":4.64,"s":4},{"x":37.3,"y":5.1,"s":4},{"x":38.3,"y":4.9,"s":4},{"x":39.3,"y":5.97,"s":4},{"x":40.3,"y":5.8,"s":4},{"x":41.3,"y":4.8,"s":4},{"x":42.3,"y":4.26,"s":4},{"x":43.3,"y":5.46,"s":4},{"x":44.3,"y":4.89,"s":4},{"x":45.3,"y":3.45,"s":4},{"x":46.3,"y":4.5,"s":4},{"x":47.3,"y":3.79,"s":4},{"x":48.3,"y":5.0,"s":4},{"x":49.3,"y":6.05,"s":4},{"x":50.3,"y":6.07,"s":4},{"x":51.3,"y":5.4,"s":4},{"x":52.3,"y":6.33,"s":4},{"x":53.3,"y":4.64,"s":4},{"x":54.3,"y":5.0,"s":4},{"x":55.3,"y":5.3,"s":4},{"x":56.3,"y":7.0,"s":4},{"x":57.3,"y":5.6,"s":4},{"x":58.3,"y":5.0,"s":4},{"x":59.3,"y":5.4,"s":4},{"x":60,"y":6.0,"s":4},
{"x":10,"y":8.85,"s":8},{"x":11.3,"y":7.3,"s":8},{"x":12.3,"y":4.4,"s":8},{"x":13.3,"y":6.24,"s":8},{"x":14.3,"y":6.2,"s":8},{"x":15.3,"y":4.9,"s":8},{"x":16.3,"y":7.26,"s":8},{"x":17.3,"y":6.47,"s":8},{"x":18.3,"y":6.52,"s":8},{"x":19.3,"y":7.55,"s":8},{"x":20.3,"y":7.0,"s":8},{"x":21.3,"y":6.47,"s":8},{"x":22.3,"y":9.05,"s":8},{"x":23.3,"y":7.5,"s":8},{"x":24.3,"y":9.05,"s":8},{"x":25.3,"y":6.5,"s":8},{"x":26.3,"y":5.9,"s":8},{"x":27.3,"y":5.82,"s":8},{"x":28.3,"y":6.62,"s":8},{"x":29.3,"y":6.67,"s":8},{"x":30.3,"y":6.24,"s":8},{"x":31.3,"y":5.0,"s":8},{"x":32.3,"y":6.2,"s":8},{"x":33.3,"y":8.0,"s":8},{"x":34.3,"y":5.82,"s":8},{"x":35.3,"y":6.9,"s":8},{"x":36.3,"y":6.9,"s":8},{"x":37.3,"y":7.47,"s":8},{"x":38.3,"y":6.5,"s":8},{"x":39.3,"y":5.57,"s":8},{"x":40.3,"y":6.1,"s":8},{"x":41.3,"y":7.9,"s":8},{"x":42.3,"y":6.03,"s":8},{"x":43.3,"y":6.01,"s":8},{"x":44.3,"y":5.3,"s":8},{"x":45.3,"y":5.99,"s":8},{"x":46.3,"y":5.2,"s":8},{"x":47.3,"y":6.5,"s":8},{"x":48.3,"y":6.24,"s":8},{"x":49.3,"y":5.0,"s":8},{"x":50.3,"y":6.67,"s":8},{"x":51.3,"y":6.0,"s":8},{"x":52.3,"y":5.0,"s":8},{"x":53.3,"y":6.75,"s":8},{"x":54.3,"y":6.3,"s":8},{"x":55.3,"y":4.7,"s":8},{"x":56.3,"y":7.64,"s":8},{"x":57.3,"y":7.22,"s":8},{"x":58.3,"y":7.34,"s":8},{"x":59.3,"y":8.02,"s":8},{"x":60,"y":8.44,"s":8}
]
},
"hconcat":[
{
"width":953,"height":710,
"title":{"text":"Elfouhaily wind wave field (across-track wind)","baseline":"alphabetic"},
"layer":[
{"data":{"name":"bands"},"mark":{"type":"rect","color":"#b8b8b8","opacity":0.5},
"encoding":{"x":{"field":"x0","type":"quantitative","scale":{"domain":[10,60],"nice":false,"zero":false},"axis":{"values":[10,20,30,40,50,60],"title":"Across-track distance [km]","titlePadding":7,"grid":true}},"x2":{"field":"x1"}}},
{"data":{"name":"biasRaw"},"mark":{"type":"line","strokeWidth":2,"strokeDash":[2,3.3],"opacity":0.45,"clip":true},
"encoding":{"x":{"field":"x","type":"quantitative","scale":{"domain":[10,60],"nice":false,"zero":false}},
"y":{"field":"y","type":"quantitative","scale":{"domain":[-15,4],"nice":false,"zero":false},"axis":{"values":[-14,-12,-10,-8,-6,-4,-2,0,2,4],"format":"d","title":"Height bias [cm]","titlePadding":14,"grid":true}},
"color":{"field":"s","type":"nominal","scale":{"domain":[0.5,2,4,8],"range":["#1f77b4","#ff7f0e","#2ca02c","#d62728"]},"legend":null}}},
{"data":{"name":"biasAvg"},"mark":{"type":"line","strokeWidth":4,"clip":true},
"encoding":{"x":{"field":"x","type":"quantitative","scale":{"domain":[10,60],"nice":false,"zero":false}},
"y":{"field":"y","type":"quantitative","scale":{"domain":[-15,4],"nice":false,"zero":false}},
"color":{"field":"s","type":"nominal","scale":{"domain":[0.5,2,4,8],"range":["#1f77b4","#ff7f0e","#2ca02c","#d62728"]},"legend":null},
"strokeDash":{"field":"m","type":"nominal","scale":{"domain":["No","Yes"],"range":[[1,0],[14.8,6.4]]},"legend":null}}}
]
},
{
"width":953,"height":710,
"title":{"text":"Elfouhaily wind wave field (across-track wind)","baseline":"alphabetic"},
"layer":[
{"data":{"name":"bands"},"mark":{"type":"rect","color":"#b8b8b8","opacity":0.5},
"encoding":{"x":{"field":"x0","type":"quantitative","scale":{"domain":[10,60],"nice":false,"zero":false},"axis":{"values":[10,20,30,40,50,60],"title":"Across-track distance [km]","titlePadding":7,"grid":true}},"x2":{"field":"x1"}}},
{"data":{"name":"rmsRaw"},"mark":{"type":"line","strokeWidth":2,"strokeDash":[2,3.3],"opacity":0.45,"clip":true},
"encoding":{"x":{"field":"x","type":"quantitative","scale":{"domain":[10,60],"nice":false,"zero":false}},
"y":{"field":"y","type":"quantitative","scale":{"domain":[0,9],"nice":false,"zero":false},"axis":{"values":[0,1,2,3,4,5,6,7,8,9],"format":"d","title":"Height RMS per km² [cm]","titlePadding":12,"grid":true}},
"color":{"field":"s","type":"nominal","scale":{"domain":[0.5,2,4,8],"range":["#1f77b4","#ff7f0e","#2ca02c","#d62728"]}}}},
{"data":{"name":"rmsAvg"},"mark":{"type":"line","strokeWidth":4,"clip":true},
"encoding":{"x":{"field":"x","type":"quantitative","scale":{"domain":[10,60],"nice":false,"zero":false}},
"y":{"field":"y","type":"quantitative","scale":{"domain":[0,9],"nice":false,"zero":false}},
"color":{"field":"s","type":"nominal","scale":{"domain":[0.5,2,4,8],"range":["#1f77b4","#ff7f0e","#2ca02c","#d62728"]},"legend":{"title":"SWH [m]","orient":"none","legendX":802,"legendY":487,"symbolDash":[1,0],"symbolOpacity":1,"labelOffset":21,"encode":{"symbols":{"update":{"opacity":{"value":1},"strokeWidth":{"value":4},"strokeDash":{"value":[1,0]}}}}}},
"strokeDash":{"field":"m","type":"nominal","scale":{"domain":["No","Yes"],"range":[[1,0],[14.8,6.4]]},"legend":{"title":"Hydrodynamic modulation","orient":"none","legendX":14,"legendY":567,"symbolStrokeColor":"black","symbolOffset":118,"labelOffset":22.7,"encode":{"symbols":{"update":{"opacity":{"value":1},"strokeWidth":{"value":4},"stroke":{"value":"black"}}}}}}}}
]
}
]
}
